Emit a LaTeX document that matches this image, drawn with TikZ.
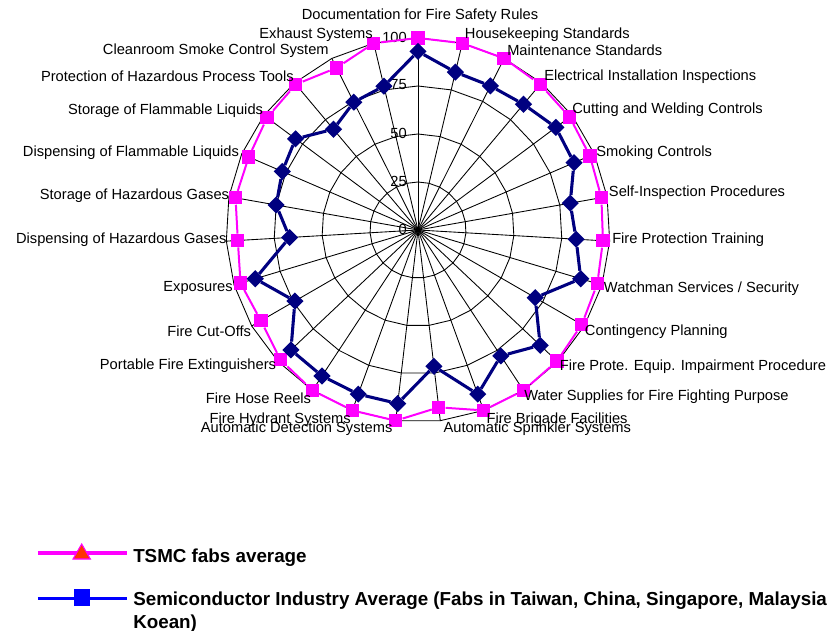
\documentclass[tikz,border=0pt]{standalone}
\usepackage{fontspec}
\setmainfont{Liberation Sans}
\usetikzlibrary{shapes.geometric,positioning}
\definecolor{tsmcmag}{RGB}{255,0,255}
\definecolor{indnavy}{RGB}{0,0,128}
\definecolor{legred}{RGB}{255,51,0}
\definecolor{legblue}{RGB}{0,0,255}
\begin{document}
\begin{tikzpicture}[x=0.75pt,y=0.75pt,
  web/.style={black, line width=0.65pt},
  tsmcline/.style={tsmcmag, line width=1.5pt},
  indline/.style={indnavy, line width=2.3pt},
  tsmcpt/.style={rectangle, fill=tsmcmag, minimum size=10pt, inner sep=0},
  indpt/.style={diamond, fill=indnavy, minimum size=13pt, inner sep=0},
  catlab/.style={inner sep=0, font=\fontsize{11}{13}\selectfont},
  legtxt/.style={inner sep=0, anchor=base west, font=\bfseries\fontsize{14.1}{17}\selectfont}]
\useasboundingbox[fill=white] (-418,-401) rectangle (410,230);
\coordinate (o) at (0,0);
% spokes and rings
\foreach \k in {0,...,26} \draw[web] (o) -- ({90-\k*360/27}:192);
\foreach \r in {48,96,144,192}
  \draw[web] (90:\r) \foreach \k in {1,...,26} {-- ({90-\k*360/27}:\r)} -- cycle;
\foreach \v/\r in {0/0,25/48,50/96,75/144,100/192}
  \node[catlab, anchor=east] (val\v) at (-11,\r+1) {\v};
% TSMC fabs average
\foreach \v [count=\k from 0] in {100,100,100,99,98.5,97.5,97,96.5,97.5,98.5,99.5,100,100,93,100,100,100,98.5,94.5,96.5,94,96.5,96,98,99,94.5,100}
  \node[tsmcpt] (t\k) at ({90-\k*360/27}:{1.92*\v}) {};
\foreach \k in {0,...,26} {\pgfmathtruncatemacro\n{mod(\k+1,27)} \draw[tsmcline] (t\k) -- (t\n);}
% industry average
\foreach \v [count=\k from 0] in {93,84.5,84,85.5,89.5,88.5,80.5,82.5,88.5,70.5,87.5,78.5,91,71.5,91,91,91,91,74,88.5,67,75,77,79.5,68.5,74.5,77}
  \node[indpt] (s\k) at ({90-\k*360/27}:{1.92*\v}) {};
\foreach \k in {0,...,26} {\pgfmathtruncatemacro\n{mod(\k+1,27)} \draw[indline] (s\k) -- (s\n);}
% category labels
\node[catlab] (lab0) at (2,214) {Documentation for Fire Safety Rules};
\node[catlab, anchor=west] (lab1) at (46.7,195) {Housekeeping Standards};
\node[catlab, anchor=west] (lab2) at (89,179.3) {Maintenance Standards};
\node[catlab, anchor=west] (lab3) at (126,153.3) {Electrical Installation Inspections};
\node[catlab, anchor=west] (lab4) at (154,120) {Cutting and Welding Controls};
\node[catlab, anchor=west] (lab5) at (178,77.3) {Smoking Controls};
\node[catlab, anchor=west] (lab6) at (190.7,37) {Self-Inspection Procedures};
\node[catlab, anchor=west] (lab7) at (194,-10) {Fire Protection Training};
\node[catlab, anchor=west] (lab8) at (185.7,-58.3) {Watchman Services / Security};
\node[catlab, anchor=west] (lab9) at (166.7,-101.7) {Contingency Planning};
\node[catlab, anchor=west] (lab10) at (141.7,-136.7) {Fire Prote. Equip. Impairment Procedure};
\node[catlab, anchor=west] (lab11) at (106,-166.7) {Water Supplies for Fire Fighting Purpose};
\node[catlab, anchor=west] (lab12) at (68.3,-189.3) {Fire Brigade Facilities};
\node[catlab, anchor=west] (lab13) at (25.3,-199) {Automatic Sprinkler Systems};
\node[catlab, anchor=east] (lab14) at (-25.3,-199) {Automatic Detection Systems};
\node[catlab, anchor=east] (lab15) at (-67,-189.3) {Fire Hydrant Systems};
\node[catlab, anchor=east] (lab16) at (-106.7,-168.3) {Fire Hose Reels};
\node[catlab, anchor=east] (lab17) at (-141.7,-136) {Portable Fire Extinguishers};
\node[catlab, anchor=east] (lab18) at (-166.7,-101) {Fire Cut-Offs};
\node[catlab, anchor=east] (lab19) at (-185,-58.3) {Exposures};
\node[catlab, anchor=east] (lab20) at (-191.3,-10) {Dispensing of Hazardous Gases};
\node[catlab, anchor=east] (lab21) at (-188.7,34.3) {Storage of Hazardous Gases};
\node[catlab, anchor=east] (lab22) at (-178.7,77.3) {Dispensing of Flammable Liquids};
\node[catlab, anchor=east] (lab23) at (-154.7,119.3) {Storage of Flammable Liquids};
\node[catlab, anchor=east] (lab24) at (-124,153.3) {Protection of Hazardous Process Tools};
\node[catlab, anchor=east] (lab25) at (-89,179.3) {Cleanroom Smoke Control System};
\node[catlab, anchor=east] (lab26) at (-45,195) {Exhaust Systems};
% legend
\coordinate (tl0) at (-380,-323);
\coordinate (tl1) at (-291,-323);
\draw[tsmcmag, line width=2.4pt] (tl0) -- (tl1);
\node[regular polygon, regular polygon sides=3, fill=legred, draw=tsmcmag, line width=0.8pt, minimum size=15pt, inner sep=0] (tm) at (-336.3,-324) {};
\node[legtxt] (tt) at (-285,-332) {TSMC fabs average};
\coordinate (il0) at (-380,-368.3);
\coordinate (il1) at (-291,-368.3);
\draw[legblue, line width=2.4pt] (il0) -- (il1);
\node[rectangle, fill=legblue, minimum size=12.5pt, inner sep=0] (im) at (-336,-367.5) {};
\node[legtxt] (it1) at (-285,-375) {Semiconductor Industry Average (Fabs in Taiwan, China, Singapore, Malaysia};
\node[legtxt] (it2) at ([yshift=-17.5pt]it1.base west) {Koean)};
\end{tikzpicture}
\end{document}
